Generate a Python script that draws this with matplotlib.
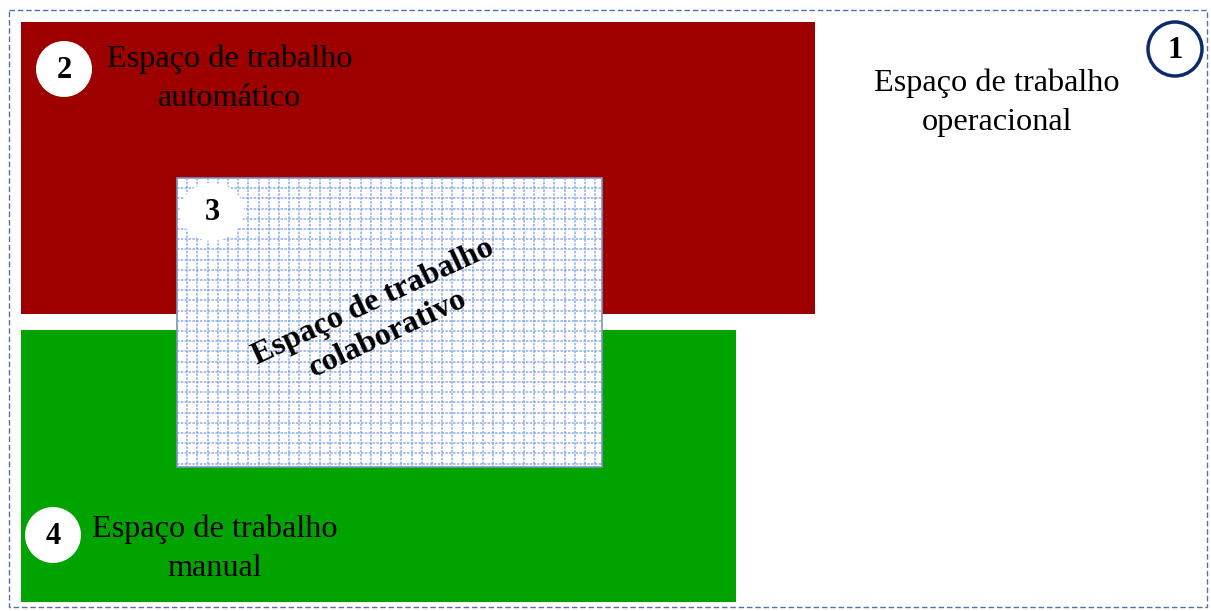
import numpy as np
import matplotlib.pyplot as plt
from matplotlib.patches import Rectangle, Circle, Ellipse

W, H = 1211, 611

# areas (x0, y0, x1, y1) in image pixels
outer_box = (9, 10, 1207, 607)
red_box = (21, 22, 815, 314)
green_box = (21, 330, 736, 602)
grid_box = (177, 178, 602, 467)
grid_step = 10.2

labels = ["Espaço de trabalho\noperacional", "Espaço de trabalho\nautomático",
          "Espaço de trabalho\ncolaborativo", "Espaço de trabalho\nmanual"]
label_pos = [(997, 103), (230, 79), (381, 318), (215, 549)]
numbers = ["1", "2", "3", "4"]
number_pos = [(1175, 49), (64, 69), (212, 212), (53, 535)]

plt.rcParams['font.family'] = ['Liberation Serif', 'DejaVu Serif']

fig = plt.figure(figsize=(W / 100, H / 100), dpi=100)
ax = fig.add_axes([0, 0, 1, 1])
ax.set_xlim(0, W)
ax.set_ylim(H, 0)
ax.axis('off')

def rect(box, **kw):
    x0, y0, x1, y1 = box
    return Rectangle((x0, y0), x1 - x0, y1 - y0, **kw)

ax.add_patch(rect(outer_box, fill=False, edgecolor='#4f72b0', linewidth=1, linestyle=(0, (4, 2))))
ax.add_patch(rect(red_box, facecolor='#9e0000', edgecolor='none'))
ax.add_patch(rect(green_box, facecolor='#00a300', edgecolor='none'))

# collaborative area with dotted grid
ax.add_patch(rect(grid_box, facecolor='white', edgecolor='#7f93b8', linewidth=1.2, zorder=3))
gx0, gy0, gx1, gy1 = grid_box
for x in np.arange(gx0 + grid_step, gx1, grid_step):
    ax.plot([x, x], [gy0, gy1], color='#7ea3e0', linewidth=1.2, linestyle=(0, (1.5, 0.8)), alpha=0.8, zorder=4)
for y in np.arange(gy0 + grid_step, gy1, grid_step):
    ax.plot([gx0, gx1], [y, y], color='#7ea3e0', linewidth=1.2, linestyle=(0, (1.5, 0.8)), alpha=0.8, zorder=4)

# number markers
ax.add_patch(Circle(number_pos[0], 27, facecolor='white', edgecolor='#0d2a6b', linewidth=2.5, zorder=5))
ax.add_patch(Circle(number_pos[1], 28, facecolor='white', edgecolor='none', zorder=5))
ax.add_patch(Ellipse(number_pos[2], 64, 58, facecolor='white', edgecolor='none', zorder=5))
ax.add_patch(Circle(number_pos[3], 28, facecolor='white', edgecolor='none', zorder=5))
for num, (x, y) in zip(numbers, number_pos):
    ax.text(x, y + 1, num, fontsize=22, fontweight='bold', ha='center', va='center', zorder=6)

for i, (lab, (x, y)) in enumerate(zip(labels, label_pos)):
    if i == 2:
        ax.text(x, y, lab, fontsize=23, fontweight='bold', ha='center', va='center',
                rotation=25, rotation_mode='anchor', linespacing=1.3, zorder=6)
    else:
        ax.text(x, y, lab, fontsize=23.2, ha='center', va='center', linespacing=1.45, zorder=6)

fig.savefig('out.png', dpi=100)
